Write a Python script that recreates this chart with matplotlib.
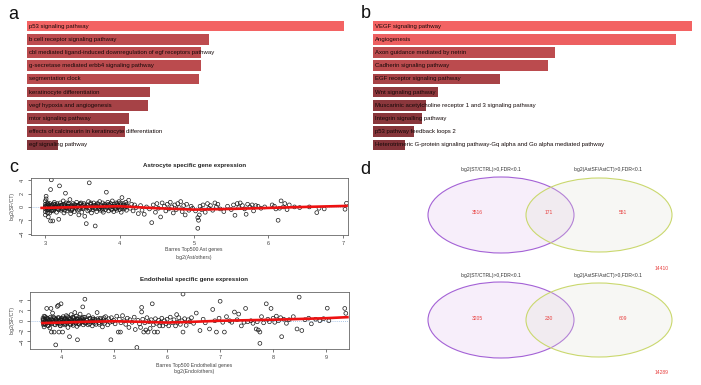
import matplotlib
matplotlib.use('Agg')
import matplotlib.pyplot as plt
from matplotlib.patches import Ellipse
import numpy as np

plt.rcParams['font.family'] = ['Liberation Sans', 'DejaVu Sans']

# ---- data: panel a (enrichment bars) ----
a_terms = ['p53 signaling pathway',
           'b cell receptor signaling pathway',
           'cbl mediated ligand-induced downregulation of egf receptors pathway',
           'g-secretase mediated erbb4 signaling pathway',
           'segmentation clock',
           'keratinocyte differentiation',
           'vegf hypoxia and angiogenesis',
           'mtor signaling pathway',
           'effects of calcineurin in keratinocyte differentiation',
           'egf signaling pathway']
a_scores = [10.0, 5.74, 5.49, 5.49, 5.43, 3.88, 3.82, 3.22, 3.09, 0.98]

# ---- data: panel b ----
b_terms = ['VEGF signaling pathway',
           'Angiogenesis',
           'Axon guidance mediated by netrin',
           'Cadherin signaling pathway',
           'EGF receptor signaling pathway',
           'Wnt signaling pathway',
           'Muscarinic acetylcholine receptor 1 and 3 signaling pathway',
           'Integrin signalling pathway',
           'p53 pathway feedback loops 2',
           'Heterotrimeric G-protein signaling pathway-Gq alpha and Go alpha mediated pathway']
b_scores = [10.0, 9.5, 5.71, 5.49, 3.98, 2.04, 1.66, 1.54, 1.29, 1.0]

# ---- data: panel c, astrocyte genes (x = log2(Ast/others), y = log2(SF/CT)) ----
ast_x = [3.00, 3.00, 3.00, 3.00, 3.00, 3.00, 3.01, 3.01, 3.02, 3.02, 3.03, 3.03, 3.04, 3.05, 3.05,
         3.06, 3.07, 3.07, 3.08, 3.08, 3.09, 3.10, 3.10, 3.11, 3.12, 3.13, 3.14, 3.15, 3.16, 3.17,
         3.18, 3.18, 3.19, 3.20, 3.21, 3.22, 3.23, 3.24, 3.25, 3.26, 3.27, 3.27, 3.28, 3.29, 3.30,
         3.31, 3.32, 3.33, 3.34, 3.35, 3.36, 3.37, 3.38, 3.39, 3.40, 3.41, 3.42, 3.43, 3.44, 3.45,
         3.46, 3.47, 3.48, 3.49, 3.50, 3.51, 3.52, 3.53, 3.54, 3.55, 3.56, 3.57, 3.58, 3.59, 3.60,
         3.61, 3.62, 3.63, 3.64, 3.65, 3.66, 3.67, 3.68, 3.69, 3.70, 3.71, 3.72, 3.73, 3.74, 3.75,
         3.76, 3.77, 3.78, 3.79, 3.80, 3.81, 3.82, 3.83, 3.84, 3.85, 3.86, 3.87, 3.88, 3.89, 3.90,
         3.91, 3.92, 3.93, 3.94, 3.95, 3.96, 3.97, 3.98, 3.99, 4.00, 4.01, 4.02, 4.03, 4.04, 4.05,
         4.06, 4.07, 4.08, 4.09, 4.10, 4.12, 4.14, 4.16, 4.18, 4.20, 4.22,
         3.01, 3.02, 3.03, 3.04, 3.06, 3.08, 3.11, 3.13, 3.15, 3.19, 3.22, 3.26, 3.31, 3.36, 3.44,
         4.25, 4.28, 4.30, 4.33, 4.36, 4.40, 4.43, 4.45, 4.48, 4.50, 4.52, 4.55, 4.57, 4.60, 4.62,
         4.64, 4.66, 4.68, 4.70, 4.72, 4.74, 4.76, 4.78, 4.80, 4.82, 4.84, 4.86, 4.88, 4.90, 4.93,
         4.96, 4.98,
         5.02, 5.05, 5.06, 5.05, 5.07, 5.08, 5.10, 5.12, 5.15, 5.18, 5.20, 5.22, 5.25, 5.28, 5.30,
         5.32, 5.35, 5.40, 5.45, 5.50, 5.53, 5.55, 5.58, 5.60, 5.62, 5.65, 5.68, 5.70, 5.72, 5.75,
         5.78, 5.80, 5.83, 5.86, 5.90, 5.95,
         6.05, 6.08, 6.10, 6.13, 6.15, 6.17, 6.20, 6.22, 6.25, 6.28, 6.35, 6.42, 6.55, 6.65, 6.68,
         6.75, 7.03, 7.05]
ast_y = [0.9, 0.4, 0.1, -0.3, -0.7, -1.2, 1.6, 1.2, -0.5, 0.2, -0.9, 0.6, -1.5, 0.0, -0.2,
         0.5, -2.1, 2.6, 4.05, -0.6, 0.3, -2.1, 0.0, -0.4, 0.7, -0.1, 0.2, -0.8, 0.5, -0.3,
         0.1, -1.85, 3.15, 0.6, -0.5, 0.2, -0.2, 0.9, -0.9, 0.3, 2.05, -0.1, 0.6, -0.6, 0.1,
         0.4, -0.3, 1.1, -1.0, 0.2, -0.4, 0.5, 0.0, -0.7, 0.3, -0.2, 0.7, -0.5, 0.1, -1.2,
         0.4, -0.1, 0.6, -0.8, 0.2, -0.3, 0.5, -1.4, 0.0, -2.5, 0.3, -0.6, 0.8, 3.6, -0.2,
         0.4, -0.9, 0.1, -0.4, 0.6, -0.1, -2.85, 0.3, -0.7, 0.5, 0.0, -0.3, 0.8, -0.5, 0.2,
         -0.2, 0.6, -0.8, 0.1, 0.4, -0.4, 2.2, 0.0, 0.7, -0.6, 0.3, -0.1, 0.5, -0.3, 0.9,
         0.1, -0.7, 0.4, -0.2, 0.6, -0.5, 0.2, -0.1, 0.8, -0.4, 0.3, -0.8, 1.4, 0.0, 0.5,
         -0.3, 0.2, 0.7, -0.5, 0.1, 1.0, -0.2, 0.4, -0.6, 0.3, -0.1,
         -0.1, 0.5, -0.4, 0.3, -0.9, 0.2, -0.6, 0.4, 0.0, -0.2, 0.3, -0.5, 0.1, -0.3, 0.2,
         -1.0, 0.2, -0.5, -1.1, 0.0, -0.3, -2.35, 0.3, -0.8, 0.5, -0.2, -1.5, 0.6, 0.1, -0.6,
         0.4, -0.3, 0.7, 0.0, -0.9, 0.3, -0.4, 0.5, -0.1, 0.8, -0.7, 0.2, -1.2, 0.4, -0.5,
         0.1, -0.2,
         -0.6, -3.2, -2.0, -1.6, -1.2, 0.1, -0.4, 0.3, -0.8, 0.5, -0.2, 0.2, -0.5, 0.6, 0.0,
         0.4, -0.3, -0.7, 0.1, -0.4, 0.3, -1.25, 0.5, -0.1, 0.6, 0.2, -0.3, -1.1, 0.4, 0.0,
         0.3, -0.6, 0.2, 0.1, -0.2, 0.0,
         0.3, 0.1, -0.3, -2.0, -0.2, 0.9, 0.0, 0.5, -0.4, 0.3, 0.0, -0.1, 0.0, -0.85, -0.2,
         -0.3, -0.35, 0.55]
# extra genes in the dense 3-4 band
ast_x_dense = [3.00, 3.02, 3.04, 3.05, 3.07, 3.09, 3.11, 3.12, 3.14, 3.16,
               3.18, 3.20, 3.21, 3.23, 3.25, 3.27, 3.29, 3.31, 3.33, 3.35,
               3.37, 3.39, 3.41, 3.43, 3.45, 3.47, 3.49, 3.51, 3.53, 3.55,
               3.57, 3.59, 3.61, 3.63, 3.65, 3.67, 3.69, 3.71, 3.73, 3.75,
               3.77, 3.79, 3.81, 3.83, 3.85, 3.87, 3.89, 3.91, 3.93, 3.95,
               3.97, 3.99, 4.01, 4.03, 4.05, 4.07, 4.09]
ast_y_dense = [0.0, -0.1, 0.35, -0.35, 0.15, -0.5, 0.45, -0.25, 0.05, 0.3,
               -0.45, 0.0, 0.25, -0.3, 0.4, 0.1, -0.2, 0.55, 0.0, -0.55,
               0.15, 0.35, -0.05, 0.25, -0.35, 0.5, 0.05, -0.15, 0.3, 0.0,
               0.2, -0.4, 0.6, -0.1, 0.25, -0.3, 0.1, 0.45, -0.2, 0.0,
               -0.5, 0.3, 0.1, -0.15, 0.4, 0.2, -0.45, 0.0, 0.15, -0.25,
               0.5, 0.05, 0.6, -0.2, 0.25, -0.05, 0.35]
ast_fit_x = [2.95, 3.5, 4.0, 4.5, 5.0, 5.5, 6.0, 6.5, 7.05]
ast_fit_y = [-0.15, 0.0, 0.1, -0.2, -0.4, -0.3, -0.15, 0.0, 0.15]

# ---- data: panel c, endothelial genes ----
endo_x = [3.66, 3.66, 3.67, 3.67, 3.68, 3.68, 3.69, 3.70, 3.70, 3.71, 3.72, 3.73, 3.73, 3.74, 3.75,
          3.76, 3.77, 3.78, 3.79, 3.80, 3.81, 3.81, 3.82, 3.82, 3.83, 3.84, 3.85, 3.86, 3.87, 3.88,
          3.89, 3.90, 3.90, 3.91, 3.92, 3.93, 3.94, 3.95, 3.95, 3.96, 3.97, 3.98, 3.99, 4.00, 4.00,
          4.01, 4.02, 4.03, 4.04, 4.05, 4.06, 4.07, 4.08, 4.09, 4.10, 4.11, 4.12, 4.13, 4.14, 4.15,
          4.16, 4.17, 4.18, 4.19, 4.20, 4.21, 4.22, 4.23, 4.24, 4.25, 4.26, 4.27, 4.28, 4.29, 4.30,
          4.31, 4.31, 4.32, 4.33, 4.34, 4.35, 4.36, 4.37, 4.38, 4.39, 4.40, 4.41, 4.42, 4.43, 4.44,
          4.45, 4.45, 4.46, 4.48, 4.50, 4.52, 4.54, 4.55, 4.57, 4.59, 4.60, 4.62, 4.64, 4.66, 4.68,
          4.70, 4.72, 4.74, 4.76, 4.78, 4.80, 4.82, 4.84, 4.86, 4.88, 4.90, 4.92, 4.94, 4.95, 4.97,
          4.99,
          5.02, 5.05, 5.08, 5.10, 5.12, 5.13, 5.16, 5.19, 5.22, 5.25, 5.28, 5.30, 5.34, 5.38, 5.40,
          5.43, 5.45, 5.48, 5.50, 5.52, 5.52, 5.54, 5.56, 5.58, 5.60, 5.62, 5.64, 5.66, 5.68, 5.70,
          5.72, 5.74, 5.76, 5.78, 5.80, 5.82, 5.84, 5.86, 5.88, 5.90, 5.92, 5.95, 5.98, 6.00, 6.03,
          6.06, 6.10, 6.13, 6.16, 6.18, 6.20, 6.22, 6.25, 6.28, 6.30, 6.30, 6.33, 6.36, 6.40, 6.43,
          6.46, 6.50,
          6.55, 6.62, 6.68, 6.72, 6.80, 6.86, 6.90, 6.93, 6.98, 7.00, 7.05, 7.08, 7.12, 7.18, 7.22,
          7.27, 7.32, 7.35, 7.40, 7.45, 7.48, 7.52, 7.58, 7.62, 7.68, 7.70, 7.72, 7.75, 7.75, 7.78,
          7.82, 7.87, 7.90, 7.93, 7.96, 8.00, 8.03, 8.06, 8.10, 8.14, 8.16, 8.20, 8.25, 8.30, 8.38,
          8.45, 8.49, 8.54, 8.60, 8.67, 8.72, 8.80, 8.88, 8.95, 9.02, 9.05, 9.35, 9.37]
endo_y = [0.5, -0.3, -0.8, 0.1, -1.2, 0.9, -0.5, 0.3, -0.1, -0.7, 0.6, 2.4, -0.2, 0.2, -0.9,
          0.4, -0.4, 0.0, -1.4, 0.7, 2.4, -0.3, -2.2, 0.2, -0.6, 1.5, 0.1, -0.2, -2.2, 0.5,
          -0.8, -4.7, 0.0, 0.3, -0.4, 2.8, 0.6, 3.0, -0.1, -2.2, -0.6, 0.2, -1.0, 3.3, 0.4,
          -0.3, 0.1, -2.2, 0.8, -0.5, 0.0, -0.8, 0.5, -0.2, 1.0, 0.2, -0.4, -1.3, 0.6, -0.1,
          -3.1, 0.3, -0.6, 1.2, 0.0, -0.3, 0.7, -0.9, 0.4, -0.2, 1.6, 0.1, -0.5, 0.9, -1.1,
          -3.7, 0.3, -0.1, 0.6, -0.7, 0.2, 1.3, -0.4, 0.0, 0.5, -0.2, 2.7, -0.8, 0.3, -0.1,
          4.2, 0.7, -0.5, 0.2, -0.3, 1.0, -0.6, 0.4, 0.0, -1.0, 0.6, -0.2, 0.3, -0.7, 1.6,
          0.1, -0.4, 0.5, -0.1, -1.2, 0.2, -0.5, 0.8, 0.0, -0.8, 0.4, -0.3, -3.7, 0.6, -0.2,
          0.1,
          -0.6, 0.9, -2.2, 0.3, -2.2, -0.4, 1.0, 0.0, -0.7, 0.5, -1.3, 0.2, -0.3, 0.7, -1.7,
          -5.2, 0.1, -0.6, -1.3, 2.6, 1.7, 0.3, -2.2, -0.4, -1.8, 0.6, -2.2, -0.2, -1.5, 0.2,
          3.3, -0.8, -2.2, 0.4, -0.5, -2.2, 0.1, -1.0, -0.3, 0.5, -1.0, 0.0, -0.6, 0.3, -1.0,
          0.7, -0.4, 0.2, -1.0, 1.2, -0.3, 0.6, -0.7, 0.0, 5.2, -2.2, 0.4, -0.9, 0.2, -0.2,
          0.6, -0.5,
          1.5, -1.9, 0.3, -0.4, -1.6, 2.2, 0.0, -2.2, 0.5, 3.8, -0.3, -2.2, 0.8, 0.0, -0.3,
          1.7, 0.2, 1.3, -1.0, -0.3, 2.4, -0.2, 0.0, -0.5, -1.6, -0.2, -1.8, -2.2, -4.4, 0.8,
          -0.4, 3.3, 0.3, -0.2, 2.4, 0.5, -0.3, 0.9, 0.0, 0.6, -3.1, 0.3, -0.5, 0.2, 0.8,
          -1.6, 4.6, -1.9, 0.2, 0.5, -0.6, 0.3, 0.0, 0.4, 2.45, 0.0, 2.4, 1.45]
# extra genes in the dense 3.7-4.8 band
endo_x_dense = [3.66, 3.68, 3.70, 3.72, 3.74, 3.76, 3.78, 3.80, 3.82, 3.84,
                3.86, 3.88, 3.90, 3.92, 3.94, 3.96, 3.98, 4.00, 4.02, 4.04,
                4.06, 4.08, 4.10, 4.12, 4.14, 4.16, 4.18, 4.20, 4.22, 4.24,
                4.26, 4.28, 4.30, 4.33, 4.36, 4.39, 4.42, 4.45, 4.48, 4.51,
                4.54, 4.57, 4.60, 4.63, 4.66, 4.69, 4.72, 4.75, 4.78, 4.81]
endo_y_dense = [0.2, -0.6, 0.8, -0.3, 0.5, -1.0, 0.1, -0.5, 0.4, -0.2,
                0.7, -0.7, 0.3, 0.0, -0.4, 0.6, -0.9, 0.1, 0.5, -0.3,
                0.3, -0.6, 0.0, 0.8, -0.2, 0.4, -0.8, 0.2, -0.5, 0.6,
                0.0, -0.3, 0.4, -0.6, 0.2, -0.1, 0.7, -0.4, 0.1, -0.8,
                0.5, -0.2, 0.3, -0.5, 0.0, 0.4, -0.7, 0.2, -0.3, 0.6]
endo_fit_x = [3.65, 4.0, 4.5, 5.0, 5.5, 6.0, 6.5, 7.0, 7.5, 8.0, 8.5, 9.0, 9.4]
endo_fit_y = [-0.45, -0.35, -0.2, -0.1, -0.2, -0.35, -0.2, 0.0, 0.1, 0.2, 0.35, 0.5, 0.7]

# ---- data: panel d (venn counts) ----
venn_sets = ['log2(ST/CTRL)>0,FDR<0.1', 'log2(AstSF/AstCT)>0,FDR<0.1']
venn_top = [3516, 171, 551, 14410]      # only A, both, only B, neither
venn_bottom = [3205, 230, 609, 14289]

W, H = 701, 385
fig = plt.figure(figsize=(W / 100, H / 100), dpi=100)
fig.patch.set_facecolor('white')


def px_axes(x0, y0, x1, y1):
    return fig.add_axes([x0 / W, 1 - y1 / H, (x1 - x0) / W, (y1 - y0) / H])


def bar_color(t):
    dark = np.array([118, 46, 52]) / 255
    bright = np.array([243, 99, 99]) / 255
    return tuple(dark + t * (bright - dark))


def enrich_panel(ax, terms, scores):
    smax = max(scores)
    y = np.arange(len(terms))
    ax.barh(y, scores, height=0.8, color=[bar_color(s / smax) for s in scores])
    for i, t in enumerate(terms):
        ax.text(smax * 0.006, i, t, fontsize=4.3, va='center', ha='left', color='#140808')
    ax.set_xlim(0, smax)
    ax.set_ylim(len(terms) - 0.5, -0.5)
    ax.axis('off')


ax_a = px_axes(27, 19.5, 344, 151.5)
enrich_panel(ax_a, a_terms, a_scores)
ax_b = px_axes(373, 19.5, 692, 151.5)
enrich_panel(ax_b, b_terms, b_scores)


def scatter_panel(ax, xs, ys, fx, fy, xlim, ylim, xticks):
    ax.axhline(0, color='#8fb4e0', lw=0.6, ls=(0, (1, 1.5)), zorder=1)
    ax.scatter(xs, ys, s=7.5, facecolors='none', edgecolors='#1a1a1a', linewidths=0.5, zorder=2)
    ax.plot(fx, fy, color='#ee1111', lw=1.9, zorder=3)
    ax.set_xlim(*xlim)
    ax.set_ylim(*ylim)
    ax.set_xticks(xticks)
    ax.set_yticks([-4, -2, 0, 2, 4])
    ax.tick_params(length=2.5, width=0.5, labelsize=4, pad=1.5, colors='#444444')
    for lab in ax.get_yticklabels():
        lab.set_rotation(90)
        lab.set_va('center')
    for sp in ax.spines.values():
        sp.set_linewidth(0.6)
        sp.set_color('#666666')


ax_c1 = px_axes(30.5, 177.5, 348, 235)
scatter_panel(ax_c1, ast_x + ast_x_dense, ast_y + ast_y_dense, ast_fit_x, ast_fit_y,
              (2.80, 7.07), (-4.2, 4.4), [3, 4, 5, 6, 7])
ax_c2 = px_axes(30, 292, 349, 349)
scatter_panel(ax_c2, endo_x + endo_x_dense, endo_y + endo_y_dense, endo_fit_x, endo_fit_y,
              (3.415, 9.43), (-5.5, 5.6), [4, 5, 6, 7, 8, 9])

fig.text(195 / W, 1 - 165 / H, 'Astrocyte specific gene expression', fontsize=4.4,
         fontweight='bold', ha='center', va='center', color='#222222')
fig.text(194 / W, 1 - 250 / H, 'Barres Top500 Ast genes', fontsize=3.7, ha='center', va='center', color='#444444')
fig.text(194 / W, 1 - 257 / H, 'log2(Ast/others)', fontsize=3.7, ha='center', va='center', color='#444444')
fig.text(12 / W, 1 - 206 / H, 'log2(SF/CT)', fontsize=3.7, rotation=90, ha='center', va='center', color='#444444')

fig.text(194 / W, 1 - 279 / H, 'Endothelial specific gene expression', fontsize=4.4,
         fontweight='bold', ha='center', va='center', color='#222222')
fig.text(194 / W, 1 - 365 / H, 'Barres Top500 Endothelial genes', fontsize=3.7, ha='center', va='center', color='#444444')
fig.text(194 / W, 1 - 371.5 / H, 'log2(Endo/others)', fontsize=3.7, ha='center', va='center', color='#444444')
fig.text(12 / W, 1 - 320 / H, 'log2(SF/CT)', fontsize=3.7, rotation=90, ha='center', va='center', color='#444444')

# ---- panel d: two venn diagrams ----
ax_d = px_axes(360, 160, 701, 385)
ax_d.set_xlim(0, 341)
ax_d.set_ylim(225, 0)
ax_d.axis('off')


def venn(ax, cy, counts):
    ax.add_patch(Ellipse((141, cy), 146, 76, facecolor='#f7eefa', edgecolor='#a462d6', lw=0.8, zorder=1))
    ax.add_patch(Ellipse((239, cy), 146, 74, facecolor='#e2e3d6', alpha=0.25, edgecolor='none', zorder=2))
    ax.add_patch(Ellipse((239, cy), 146, 74, facecolor='none', edgecolor='#cad86e', lw=0.8, zorder=3))
    ax.text(131, cy - 45, venn_sets[0], fontsize=3.6, ha='center', va='center', color='#333333')
    ax.text(248, cy - 45, venn_sets[1], fontsize=3.6, ha='center', va='center', color='#333333')
    for xc, n in zip([117, 189, 263], counts[:3]):
        ax.text(xc, cy - 2, str(n), fontsize=3.6, ha='center', va='center', color='#e8403f', zorder=4)
    ax.text(302, cy + 53, str(counts[3]), fontsize=3.6, ha='center', va='center', color='#e8403f')


venn(ax_d, 55, venn_top)
venn(ax_d, 160, venn_bottom)

# panel letters
for lx, ly, s in [(13.5, 14.5, 'a'), (365.5, 13.5, 'b'), (14, 167.5, 'c'), (365.5, 169.5, 'd')]:
    fig.text(lx / W, 1 - ly / H, s, fontsize=13, ha='center', va='center', color='#111111')

fig.savefig('out.png', dpi=100, facecolor='white')
